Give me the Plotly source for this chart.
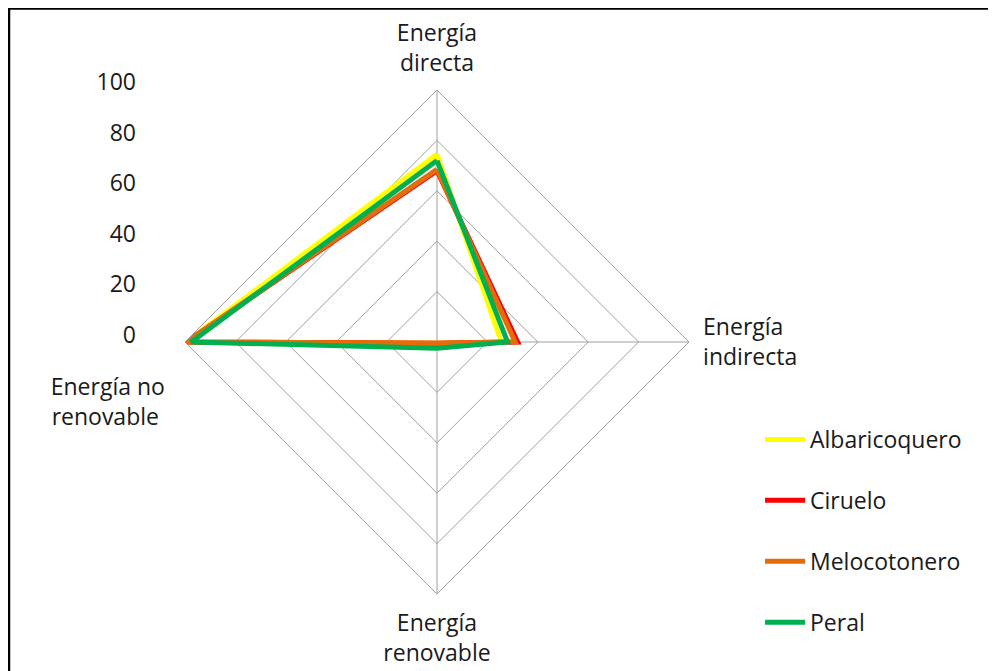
import plotly.graph_objects as go

categories = ["Energía directa", "Energía indirecta", "Energía renovable", "Energía no renovable"]
NB = "\u00a0"
category_labels = ["Energía<br>directa", "Energía<br>indirecta", "Energía<br>renovable",
                   "<br><br><br><br>Energía no" + NB * 1 + "<br>renovable" + NB * 2]
series_names = ["Albaricoquero", "Ciruelo", "Melocotonero", "Peral"]
albaricoquero = [74.5, 25.5, 0.5, 99.5]
ciruelo = [68, 32, 0.5, 99.5]
melocotonero = [68.5, 31, 0.5, 99.5]
peral = [72, 28, 2.5, 97.5]
series_values = [albaricoquero, ciruelo, melocotonero, peral]
series_colors = ["#FFFF00", "#FF0000", "#E46C0A", "#00B050"]
radial_ticks = [0, 20, 40, 60, 80, 100]

FONT = "Open Sans"
FS = 23
TXT = "#1a1a1a"
GRID = "#a0a0a0"

fig = go.Figure()
for name, vals, col in zip(series_names, series_values, series_colors):
    fig.add_trace(go.Scatterpolar(
        r=vals + vals[:1], theta=categories + categories[:1],
        mode="lines", name=name, legendgroup=name,
        line=dict(color=col, width=5),
        subplot="polar",
    ))

# invisible cartesian trace to carry the radial scale labels on the left
fig.add_trace(go.Scatter(x=[None], y=[None], showlegend=False, hoverinfo="skip",
                         xaxis="x", yaxis="y"))

# page has an 8px body margin: figure occupies 8..996 x 8..671
OFF = 8
W, H = 996 - OFF, 671 - OFF


def px(x):
    return (x - OFF) / W


def py(y):
    return 1 - (y - OFF) / H


cx, cy, R = 437, 342, 252
fig.update_layout(
    width=W, height=H,
    margin=dict(l=0, r=0, t=0, b=0, autoexpand=False),
    paper_bgcolor="white", plot_bgcolor="rgba(0,0,0,0)",
    font=dict(family=FONT, size=FS, color=TXT),
    polar=dict(
        domain=dict(x=[px(cx - R), px(cx + R)], y=[py(cy + R), py(cy - R)]),
        bgcolor="white",
        gridshape="linear",
        radialaxis=dict(range=[0, 100], tickvals=radial_ticks, showticklabels=False,
                        ticks="", showline=False, gridcolor=GRID, gridwidth=1),
        angularaxis=dict(direction="clockwise", rotation=90, type="category",
                         tickmode="array", tickvals=categories, ticktext=category_labels,
                         ticks="outside", ticklen=9, tickcolor="rgba(0,0,0,0)",
                         showline=True, linecolor=GRID, linewidth=1,
                         gridcolor=GRID, gridwidth=1,
                         tickfont=dict(family=FONT, size=FS, color=TXT)),
    ),
    xaxis=dict(domain=[px(137), px(138)], visible=False, range=[0, 1]),
    yaxis=dict(domain=[py(335), py(82)], range=[0, 100], tickvals=radial_ticks,
               showgrid=False, zeroline=False, showline=False, ticks="",
               tickfont=dict(family=FONT, size=FS, color=TXT)),
    showlegend=True,
    legend=dict(x=px(760), y=py(418), xanchor="left", yanchor="top",
                tracegroupgap=28, itemwidth=40,
                font=dict(family=FONT, size=FS, color=TXT),
                bgcolor="rgba(0,0,0,0)"),
    shapes=[dict(type="rect", xref="paper", yref="paper",
                 x0=px(9), x1=1.2, y0=-0.2, y1=py(8.5),
                 line=dict(color="black", width=2.5), fillcolor="rgba(0,0,0,0)")],
)

fig.write_html("out.html")
